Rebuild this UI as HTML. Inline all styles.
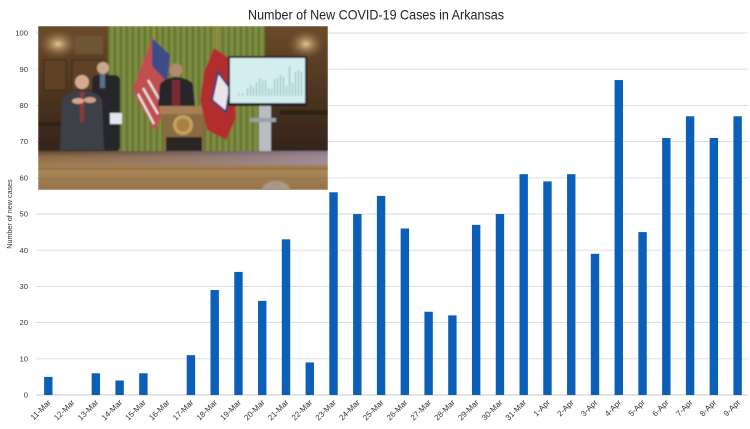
<!DOCTYPE html>
<html><head><meta charset="utf-8"><style>
html,body{margin:0;padding:0;background:#fff;}
svg{display:block;}
text{font-family:"Liberation Sans",sans-serif;}
</style></head><body>
<svg width="750" height="429" viewBox="0 0 750 429" xmlns="http://www.w3.org/2000/svg">
<defs>
<filter id="bl" x="-10%" y="-10%" width="120%" height="120%"><feGaussianBlur stdDeviation="0.8"/></filter>
<linearGradient id="wood" x1="0" y1="0" x2="0" y2="1"><stop offset="0" stop-color="#6a4a2a"/><stop offset="0.5" stop-color="#4e3620"/><stop offset="1" stop-color="#33241a"/></linearGradient>
<linearGradient id="table" x1="0" y1="0" x2="0" y2="1"><stop offset="0" stop-color="#5e4630"/><stop offset="0.15" stop-color="#8e6c46"/><stop offset="0.5" stop-color="#aa8656"/><stop offset="1" stop-color="#94724a"/></linearGradient>
<linearGradient id="lav" x1="0" y1="0" x2="1" y2="0"><stop offset="0" stop-color="#9a88a8" stop-opacity="0"/><stop offset="0.6" stop-color="#9a8fc0" stop-opacity="0.35"/><stop offset="1" stop-color="#a89cc8" stop-opacity="0.6"/></linearGradient>
<pattern id="curt" width="6" height="10" patternUnits="userSpaceOnUse"><rect width="6" height="10" fill="#76863a"/><rect x="0" width="1.5" height="10" fill="#63722e"/><rect x="3.5" width="1" height="10" fill="#869648"/></pattern>
<radialGradient id="glow" cx="0.5" cy="0.5" r="0.5"><stop offset="0" stop-color="#e8c890"/><stop offset="1" stop-color="#6a4a2a" stop-opacity="0"/></radialGradient>
</defs>

<!-- title -->
<text x="376" y="19.5" font-size="13.6" fill="#222" text-anchor="middle" textLength="256" lengthAdjust="spacingAndGlyphs">Number of New COVID-19 Cases in Arkansas</text>

<!-- gridlines -->
<g stroke="#d9d9d9" stroke-width="0.9">
<line x1="36" y1="358.8" x2="748" y2="358.8"/>
<line x1="36" y1="322.6" x2="748" y2="322.6"/>
<line x1="36" y1="286.4" x2="748" y2="286.4"/>
<line x1="36" y1="250.2" x2="748" y2="250.2"/>
<line x1="36" y1="214" x2="748" y2="214"/>
<line x1="36" y1="177.8" x2="748" y2="177.8"/>
<line x1="36" y1="141.6" x2="748" y2="141.6"/>
<line x1="36" y1="105.4" x2="748" y2="105.4"/>
<line x1="36" y1="69.2" x2="748" y2="69.2"/>
<line x1="36" y1="33" x2="748" y2="33"/>
</g>
<line x1="36" y1="395" x2="748" y2="395" stroke="#c8c8c8" stroke-width="1"/>

<!-- y tick labels -->
<g font-size="7.6" fill="#333" text-anchor="end">
<text x="28" y="397.6">0</text>
<text x="28" y="361.4">10</text>
<text x="28" y="325.2">20</text>
<text x="28" y="289">30</text>
<text x="28" y="252.8">40</text>
<text x="28" y="216.6">50</text>
<text x="28" y="180.4">60</text>
<text x="28" y="144.2">70</text>
<text x="28" y="108">80</text>
<text x="28" y="71.8">90</text>
<text x="28" y="35.6">100</text>
</g>
<text transform="translate(12,214) rotate(-90)" font-size="7.2" fill="#333" text-anchor="middle">Number of new cases</text>

<!-- bars -->
<g fill="#0b5fb8">
<rect x="44.1" y="376.9" width="8.4" height="18.1"/>
<rect x="91.64" y="373.28" width="8.4" height="21.72"/>
<rect x="115.41" y="380.52" width="8.4" height="14.48"/>
<rect x="139.18" y="373.28" width="8.4" height="21.72"/>
<rect x="186.72" y="355.18" width="8.4" height="39.82"/>
<rect x="210.49" y="290.02" width="8.4" height="104.98"/>
<rect x="234.26" y="271.92" width="8.4" height="123.08"/>
<rect x="258.03" y="300.88" width="8.4" height="94.12"/>
<rect x="281.8" y="239.34" width="8.4" height="155.66"/>
<rect x="305.57" y="362.42" width="8.4" height="32.58"/>
<rect x="329.34" y="192.28" width="8.4" height="202.72"/>
<rect x="353.11" y="214" width="8.4" height="181"/>
<rect x="376.88" y="195.9" width="8.4" height="199.1"/>
<rect x="400.65" y="228.48" width="8.4" height="166.52"/>
<rect x="424.42" y="311.74" width="8.4" height="83.26"/>
<rect x="448.19" y="315.36" width="8.4" height="79.64"/>
<rect x="471.96" y="224.86" width="8.4" height="170.14"/>
<rect x="495.73" y="214" width="8.4" height="181"/>
<rect x="519.5" y="174.18" width="8.4" height="220.82"/>
<rect x="543.27" y="181.42" width="8.4" height="213.58"/>
<rect x="567.04" y="174.18" width="8.4" height="220.82"/>
<rect x="590.81" y="253.82" width="8.4" height="141.18"/>
<rect x="614.58" y="80.06" width="8.4" height="314.94"/>
<rect x="638.35" y="232.1" width="8.4" height="162.9"/>
<rect x="662.12" y="137.98" width="8.4" height="257.02"/>
<rect x="685.89" y="116.26" width="8.4" height="278.74"/>
<rect x="709.66" y="137.98" width="8.4" height="257.02"/>
<rect x="733.43" y="116.26" width="8.4" height="278.74"/>
</g>

<!-- x labels -->
<g font-size="8" fill="#333" text-anchor="end">
<text transform="translate(51.3,403) rotate(-45)">11-Mar</text>
<text transform="translate(75.07,403) rotate(-45)">12-Mar</text>
<text transform="translate(98.84,403) rotate(-45)">13-Mar</text>
<text transform="translate(122.61,403) rotate(-45)">14-Mar</text>
<text transform="translate(146.38,403) rotate(-45)">15-Mar</text>
<text transform="translate(170.15,403) rotate(-45)">16-Mar</text>
<text transform="translate(193.92,403) rotate(-45)">17-Mar</text>
<text transform="translate(217.69,403) rotate(-45)">18-Mar</text>
<text transform="translate(241.46,403) rotate(-45)">19-Mar</text>
<text transform="translate(265.23,403) rotate(-45)">20-Mar</text>
<text transform="translate(289,403) rotate(-45)">21-Mar</text>
<text transform="translate(312.77,403) rotate(-45)">22-Mar</text>
<text transform="translate(336.54,403) rotate(-45)">23-Mar</text>
<text transform="translate(360.31,403) rotate(-45)">24-Mar</text>
<text transform="translate(384.08,403) rotate(-45)">25-Mar</text>
<text transform="translate(407.85,403) rotate(-45)">26-Mar</text>
<text transform="translate(431.62,403) rotate(-45)">27-Mar</text>
<text transform="translate(455.39,403) rotate(-45)">28-Mar</text>
<text transform="translate(479.16,403) rotate(-45)">29-Mar</text>
<text transform="translate(502.93,403) rotate(-45)">30-Mar</text>
<text transform="translate(526.7,403) rotate(-45)">31-Mar</text>
<text transform="translate(550.47,403) rotate(-45)">1-Apr</text>
<text transform="translate(574.24,403) rotate(-45)">2-Apr</text>
<text transform="translate(598.01,403) rotate(-45)">3-Apr</text>
<text transform="translate(621.78,403) rotate(-45)">4-Apr</text>
<text transform="translate(645.55,403) rotate(-45)">5-Apr</text>
<text transform="translate(669.32,403) rotate(-45)">6-Apr</text>
<text transform="translate(693.09,403) rotate(-45)">7-Apr</text>
<text transform="translate(716.86,403) rotate(-45)">8-Apr</text>
<text transform="translate(740.63,403) rotate(-45)">9-Apr</text>
</g>

<!-- photo inset -->
<svg x="38" y="26" width="290" height="164" viewBox="38 26 290 164">
<g filter="url(#bl)">
<rect x="38" y="26" width="290" height="164" fill="#4a3420"/>
<!-- left wood panel -->
<rect x="38" y="26" width="70" height="126" fill="url(#wood)"/>
<rect x="44" y="60" width="22" height="30" fill="#5e4228" stroke="#3a2818" stroke-width="1"/>
<rect x="72" y="60" width="30" height="30" fill="#5e4228" stroke="#3a2818" stroke-width="1"/>
<rect x="75" y="36" width="28" height="18" fill="#6e5434"/>
<ellipse cx="58" cy="44" rx="22" ry="16" fill="url(#glow)"/>
<rect x="38" y="122" width="70" height="4" fill="#2e2016"/>
<!-- curtain -->
<rect x="108" y="26" width="157" height="126" fill="url(#curt)"/>
<!-- right wood panel -->
<rect x="265" y="26" width="63" height="126" fill="url(#wood)"/>
<ellipse cx="306" cy="44" rx="20" ry="16" fill="url(#glow)"/>
<rect x="280" y="110" width="48" height="5" fill="#2e2016"/>
<!-- man 2 (behind) -->
<rect x="92" y="75" width="28" height="77" rx="5" fill="#26262c"/>
<circle cx="103" cy="68" r="6" fill="#c9a890"/>
<rect x="100" y="74" width="5" height="14" fill="#5d6f8a"/>
<rect x="110" y="113" width="12" height="11" fill="#e6e6ee"/>
<!-- man 1 (signer) -->
<path d="M60 150 L62 100 Q66 92 82 90 Q98 92 102 100 L104 150 Z" fill="#3c3f46"/>
<circle cx="82" cy="82" r="7" fill="#d8a890"/>
<rect x="80" y="92" width="4" height="30" fill="#8a3a3a"/>
<ellipse cx="78" cy="101" rx="6" ry="3" fill="#d4a48c"/>
<ellipse cx="90" cy="100" rx="6" ry="3" fill="#cfa08a"/>
<!-- US flag -->
<path d="M152 38 L170 55 L165 110 L155 131 L135 95 L133 88 Z" fill="#c05050"/>
<path d="M138 94 L154 124 M143 88 L158 114 M148 80 L162 104" stroke="#ece4e4" stroke-width="2.2"/>
<path d="M152 38 L170 55 L167 82 L152 66 Z" fill="#3e4c88"/>
<line x1="154" y1="27" x2="154" y2="40" stroke="#b09040" stroke-width="1.5"/>
<!-- speaker -->
<path d="M158 106 L160 84 Q165 78 176 77 Q188 78 193 84 L195 106 Z" fill="#27262a"/>
<rect x="172" y="80" width="8" height="26" fill="#7a2a30"/>
<circle cx="176" cy="70" r="6.5" fill="#b08a70"/>
<!-- podium -->
<rect x="160" y="106" width="47" height="8" fill="#a88152"/>
<rect x="164" y="114" width="40" height="37" fill="#8a6a42"/>
<circle cx="183" cy="125" r="10" fill="#c4a060"/>
<circle cx="183" cy="125" r="6.5" fill="#a88040"/>
<rect x="166" y="137" width="36" height="14" fill="#2b2622"/>
<!-- Arkansas flag -->
<line x1="217" y1="27" x2="217" y2="50" stroke="#b09040" stroke-width="1.5"/>
<path d="M214 48 L232 60 L236 118 L226 140 L207 130 L200 100 L204 72 Z" fill="#b22e2e"/>
<path d="M218 72 L230 88 L226 112 L212 100 Z" fill="#eae4ea" stroke="#303a7a" stroke-width="2"/>
<!-- monitor stand -->
<rect x="259" y="106" width="12" height="46" fill="#b8bcc4"/>
<rect x="250" y="118" width="26" height="4" fill="#9aa0a8"/>
<!-- monitor -->
<rect x="228" y="56" width="79" height="50" fill="#1c1c2c"/>
<rect x="230" y="58" width="75" height="45" fill="#d4eef0"/>
<g fill="#8ab8b8">
<rect x="238" y="93" width="1" height="3"/><rect x="242" y="93" width="1" height="3"/>
<rect x="247" y="88" width="1" height="8"/><rect x="250" y="85" width="1" height="11"/><rect x="253" y="87" width="1" height="9"/>
<rect x="256" y="82" width="1" height="14"/><rect x="259" y="78" width="1" height="18"/><rect x="262" y="80" width="1" height="16"/>
<rect x="265" y="80" width="1" height="16"/><rect x="268" y="88" width="1" height="8"/><rect x="271" y="89" width="1" height="7"/>
<rect x="274" y="79" width="1" height="17"/><rect x="277" y="78" width="1" height="18"/><rect x="280" y="75" width="1" height="21"/>
<rect x="283" y="77" width="1" height="19"/><rect x="286" y="86" width="1" height="10"/><rect x="289" y="66" width="1" height="30"/>
<rect x="292" y="83" width="1" height="13"/><rect x="295" y="72" width="1" height="24"/><rect x="298" y="70" width="1" height="26"/>
<rect x="301" y="72" width="1" height="24"/>
</g>
<!-- table -->
<rect x="38" y="151" width="290" height="39" fill="url(#table)"/>
<rect x="38" y="151" width="290" height="14" fill="url(#lav)"/>
<rect x="38" y="168" width="290" height="1.5" fill="#7a5c3c" opacity="0.6"/>
<rect x="38" y="178" width="290" height="1" fill="#7a5c3c" opacity="0.5"/>
<ellipse cx="276" cy="190" rx="14" ry="9" fill="#a89888"/>
</g>
</svg>
</svg>
</body></html>
